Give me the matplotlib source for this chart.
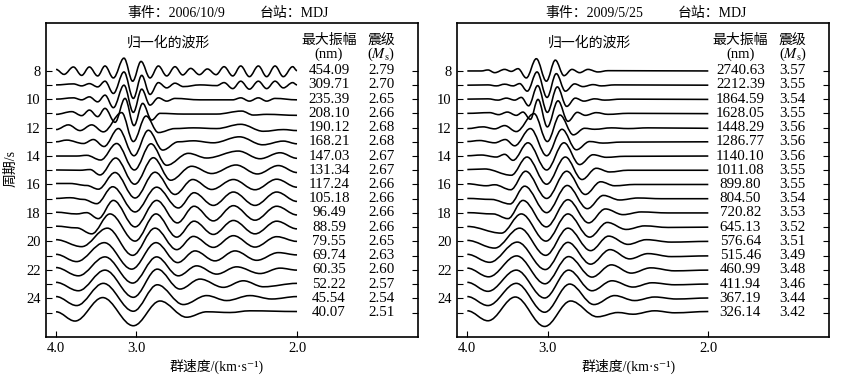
import numpy as np
import matplotlib
matplotlib.use('Agg')
import matplotlib.pyplot as plt
from matplotlib.path import Path
from matplotlib.patches import PathPatch
from matplotlib.transforms import blended_transform_factory

plt.rcParams['font.family'] = ['Liberation Serif', 'Noto Sans CJK SC', 'DejaVu Serif']
plt.rcParams['mathtext.fontset'] = 'stix'
plt.rcParams['font.size'] = 10

periods = list(range(8, 26))
vel_ticks = [4.0, 3.0, 2.0]

# event 1: 2006/10/9
ev1_maxamp = [454.09, 309.71, 235.39, 208.10, 190.12, 168.21, 147.03, 131.34, 117.24,
              105.18, 96.49, 88.59, 79.55, 69.74, 60.35, 52.22, 45.54, 40.07]
ev1_ms = [2.79, 2.70, 2.65, 2.66, 2.68, 2.68, 2.67, 2.67, 2.66,
          2.66, 2.66, 2.66, 2.65, 2.63, 2.60, 2.57, 2.54, 2.51]

# event 2: 2009/5/25
ev2_maxamp = [2740.63, 2212.39, 1864.59, 1628.05, 1448.29, 1286.77, 1140.10, 1011.08, 899.80,
              804.50, 720.82, 645.13, 576.64, 515.46, 460.99, 411.94, 367.19, 326.14]
ev2_ms = [3.57, 3.55, 3.54, 3.55, 3.56, 3.56, 3.56, 3.55, 3.55,
          3.54, 3.53, 3.52, 3.51, 3.49, 3.48, 3.46, 3.44, 3.42]

# normalized waveforms: extrema
# slowness (s/km) of each extremum, and normalized amplitude (up = +)
ev1_slow = [
    [.2500, .2583, .2680, .2766, .2846, .2932, .3008, .3095, .3205, .3295, .3382, .3475, .3562, .3648, .3734,
     .3814, .3897, .3987, .4070, .4160, .4243, .4333, .4416, .4506, .4599, .4685, .4772, .4858, .4955, .5000],
    [.2500, .2680, .2766, .2846, .2932, .3008, .3095, .3205, .3302, .3389, .3475, .3562, .3648, .3734,
     .3821, .3994, .4167, .4243, .4333, .4416, .4506, .4599, .4685, .4772, .4858, .4955, .5000],
    [.2500, .2680, .2766, .2846, .2932, .3008, .3095, .3205, .3302, .3389, .3475, .3562, .3648, .3734,
     .3994, .4333, .4416, .4506, .4599, .4685, .4772, .5000],
    [.2500, .2663, .2766, .2846, .2932, .3008, .3112, .3216, .3309, .3399, .3492, .3579, .3821, .4167,
     .4426, .4547, .4685, .5000],
    [.2500, .2628, .2749, .2870, .2991, .3181, .3302, .3434, .3562, .3734, .3925, .4167, .4416, .4651, .4858, .5000],
    [.2500, .2611, .2784, .2887, .2998, .3147, .3309, .3458, .3607, .3769, .3925, .4132, .4402, .4644, .4858, .5000],
    [.2500, .2714, .2818, .2963, .3129, .3313, .3485, .3648, .3873, .4063, .4391, .4616, .4824, .5000],
    [.2500, .2749, .2853, .2956, .3119, .3316, .3510, .3690, .3907, .4115, .4367, .4589, .4806, .5000],
    [.2500, .2645, .2818, .2939, .3112, .3320, .3527, .3734, .3918, .4115, .4340, .4564, .4789, .5000],
    [.2500, .2645, .2784, .2922, .3088, .3320, .3544, .3769, .3932, .4132, .4340, .4564, .4789, .5000],
    [.2500, .2714, .2818, .2939, .3095, .3320, .3544, .3759, .3932, .4132, .4340, .4564, .4789, .5000],
    [.2500, .2714, .2870, .3060, .3320, .3537, .3752, .3932, .4132, .4340, .4564, .4789, .5000],
    [.2500, .2766, .3033, .3295, .3527, .3752, .3925, .4132, .4340, .4564, .4789, .5000],
    [.2500, .2714, .3001, .3285, .3537, .3762, .3942, .4149, .4357, .4582, .4806, .5000],
    [.2500, .2732, .3008, .3295, .3544, .3769, .3959, .4167, .4374, .4616, .4824, .5000],
    [.2500, .2732, .3008, .3302, .3551, .3786, .3994, .4236, .4443, .4651, .5000],
    [.2500, .2714, .2991, .3302, .3551, .3821, .4063, .4270, .4512, .4737, .5000],
    [.2500, .2697, .2984, .3302, .3579, .3855, .4063, .4305, .4512, .5000],
]
ev1_amp = [
    [.09, -.26, .26, -.33, .26, -.37, .33, -.51, .88, -.74, .65, -.51, .33, -.37, .28,
     -.30, .16, -.28, .12, -.28, .28, -.37, .33, -.42, .33, -.42, .33, -.42, .28, 0],
    [0, .07, -.07, .09, -.14, .26, -.60, .91, -.95, .67, -.67, .16, -.21, .12,
     -.12, 0, -.05, .16, -.26, .26, -.30, .26, -.26, .26, -.21, .16, 0],
    [0, .09, -.05, .16, -.19, .28, -.60, .98, -.93, .70, -.42, .09, -.14, .05,
     -.05, -.05, .09, -.14, .09, -.14, .05, -.05],
    [-.07, .12, -.16, .23, -.23, .35, -.63, 1.05, -.86, .70, -.47, 0, -.05, -.05,
     .16, -.12, -.07, -.14],
    [-.14, .19, -.21, .19, -.30, 1.05, -.98, .81, -.35, -.07, -.02, -.07, .23, -.26, -.14, -.21],
    [0, .12, -.12, .16, -.33, .93, -.98, .81, -.58, 0, .07, -.07, .35, -.21, .05, -.14],
    [0, 0, .05, -.28, .88, -.98, .86, -.65, .19, -.14, .35, -.19, .23, -.16],
    [.02, 0, .05, -.33, .86, -.98, .88, -.70, .28, -.23, .37, -.26, .33, -.16],
    [.07, .07, -.07, -.33, .84, -.95, .86, -.70, .35, -.35, .35, -.37, .37, -.19],
    [.02, .07, -.05, -.35, .84, -.93, .81, -.65, .42, -.47, .47, -.47, .47, -.19],
    [.05, -.07, .02, -.40, .88, -.98, .88, -.70, .47, -.56, .51, -.51, .47, -.14],
    [.07, -.05, -.47, .93, -.98, .93, -.70, .42, -.51, .47, -.47, .42, -.12],
    [.12, -.37, .93, -.98, .93, -.58, .35, -.42, .40, -.40, .33, 0],
    [.09, -.42, .91, -.95, .91, -.49, .33, -.37, .33, -.33, .21, .05],
    [.16, -.42, .91, -.93, .91, -.42, .28, -.30, .21, -.26, .12, -.02],
    [.12, -.47, .98, -.93, 1.05, -.35, .35, -.23, .23, -.19, .05],
    [.12, -.51, 1.05, -.91, .95, -.44, .19, -.16, .19, -.05, .12],
    [.05, -.60, 1.05, -.93, .81, -.33, .05, 0, .12, .07],
]

ev2_slow = [
    [.2500, .2645, .2714, .2784, .2887, .2956, .3026, .3112, .3216, .3320, .3413, .3503, .3586, .3665,
     .3752, .3855, .3959, .5000],
    [.2500, .2714, .2801, .2887, .2974, .3043, .3122, .3223, .3327, .3423, .3517, .3613, .3700, .3804,
     .3890, .4028, .5000],
    [.2500, .2714, .2818, .2905, .2991, .3060, .3136, .3230, .3330, .3434, .3531, .3620, .3710, .3821,
     .3925, .4097, .5000],
    [.2500, .2732, .2825, .2915, .3008, .3077, .3154, .3233, .3330, .3441, .3544, .3641, .3724, .3838,
     .3959, .4167, .5000],
    [.2500, .2663, .2784, .2887, .3008, .3192, .3330, .3461, .3600, .3717, .3821, .3994, .4167, .4374, .5000],
    [.2500, .2628, .2784, .2894, .2991, .3154, .3323, .3482, .3631, .3769, .3907, .4097, .5000],
    [.2500, .2645, .2801, .2887, .2974, .3129, .3323, .3503, .3665, .3804, .3942, .4132, .5000],
    [.2500, .2680, .2956, .3119, .3323, .3517, .3690, .3838, .3976, .4167, .5000],
    [.2500, .2697, .2784, .2950, .3105, .3323, .3531, .3724, .3883, .4028, .4236, .5000],
    [.2500, .2749, .2943, .3095, .3323, .3537, .3745, .3911, .4080, .4270, .4512, .5000],
    [.2500, .2766, .2922, .3077, .3320, .3544, .3759, .3932, .4115, .4305, .4582, .5000],
    [.2500, .2853, .3060, .3316, .3544, .3769, .3952, .4149, .4340, .4582, .5000],
    [.2500, .2784, .3043, .3313, .3544, .3779, .3966, .4167, .4357, .4616, .5000],
    [.2500, .2732, .3019, .3309, .3544, .3779, .3980, .4184, .4374, .4616, .5000],
    [.2500, .2721, .3012, .3306, .3551, .3793, .3994, .4201, .4402, .4651, .5000],
    [.2500, .2714, .3008, .3302, .3551, .3793, .4001, .4219, .4416, .4651, .5000],
    [.2500, .2714, .3008, .3302, .3562, .3814, .4028, .4236, .4443, .4668, .5000],
    [.2500, .2714, .2998, .3302, .3572, .3849, .4063, .4219, .4443, .4651, .5000],
]
ev2_amp = [
    [-.02, -.02, .05, -.14, .09, -.05, .14, -.51, .84, -.74, .74, -.35, .09, -.14, .09, -.09, 0, -.02],
    [-.02, 0, -.07, .05, -.07, .09, -.44, .91, -.88, .79, -.44, .07, -.12, .02, -.07, 0, -.02],
    [0, .02, -.07, .07, -.07, .12, -.47, .95, -.93, .86, -.51, .07, -.14, .02, -.07, 0, -.02],
    [0, .05, -.09, .09, -.14, .09, -.42, .98, -.95, .88, -.56, .07, -.14, .05, -.07, 0, -.02],
    [-.07, .05, -.09, .14, -.28, .98, -.98, .88, -.51, -.05, -.12, -.02, -.07, -.02, -.05],
    [.02, .09, -.07, .16, -.28, .93, -.98, .88, -.56, .02, -.09, -.02, 0],
    [.02, .07, -.07, .12, -.30, .93, -.98, .93, -.60, .09, -.09, -.02, 0],
    [.05, .09, -.35, .93, -.98, .93, -.65, .14, -.12, 0, 0],
    [.05, -.09, -.02, -.37, .93, -.98, .93, -.70, .19, -.09, 0, 0],
    [.02, -.05, -.37, .88, -.98, .93, -.70, .23, -.09, .05, 0, 0],
    [.02, -.07, -.40, .88, -.98, .93, -.70, .28, -.12, .07, 0, 0],
    [.05, -.42, .93, -.98, .93, -.70, .33, -.16, .09, -.02, 0],
    [.07, -.47, .93, -.98, .93, -.65, .37, -.21, .12, -.05, 0],
    [.09, -.47, .95, -.98, .93, -.60, .42, -.23, .14, -.07, -.02],
    [.12, -.49, .98, -.98, .93, -.51, .35, -.23, .14, -.07, -.02],
    [.12, -.51, .98, -.98, .98, -.47, .23, -.21, .09, -.05, 0],
    [.12, -.51, 1.05, -.98, 1.0, -.44, .19, -.16, .09, -.05, .02],
    [.12, -.58, 1.09, -.98, .81, -.30, 0, -.12, .12, -.02, .07],
]

events = ['2006/10/9', '2009/5/25']
station = 'MDJ'


def wave_path(s, a, p, k=0.36):
    # smooth curve through the extrema (flat tangent at each one)
    x = np.asarray(s)
    y = p - np.asarray(a)
    verts = [(x[0], y[0])]
    codes = [Path.MOVETO]
    for i in range(1, len(x)):
        dx = x[i] - x[i - 1]
        verts += [(x[i - 1] + k * dx, y[i - 1]), (x[i] - k * dx, y[i]), (x[i], y[i])]
        codes += [Path.CURVE4] * 3
    return Path(verts, codes)


fig = plt.figure(figsize=(8.51, 3.80), dpi=100)
W, H = 851, 380
panels = [
    (46, ev1_slow, ev1_amp, ev1_maxamp, ev1_ms, events[0], 0.220, 0.573, 0.330),
    (457.3, ev2_slow, ev2_amp, ev2_maxamp, ev2_ms, events[1], 0.238, 0.591, 0.355),
]

for left, slow, amp, maxamp, ms, ev, tx1, tx2, wx in panels:
    ax = fig.add_axes([left / W, 1 - 336.7 / H, 372 / W, 313.4 / H])
    for p, s, a in zip(periods, slow, amp):
        ax.add_patch(PathPatch(wave_path(s, a, p), facecolor='none', edgecolor='black', lw=1.15))
    ax.set_xlim(0.2396, 0.6255)
    ax.set_ylim(26.70, 4.67)

    ax.set_xticks([1 / v for v in vel_ticks])
    ax.set_xticklabels(['%.1f' % v for v in vel_ticks])
    ax.set_yticks(periods)
    ax.set_yticklabels([str(p) if p % 2 == 0 and p < 25 else '' for p in periods])
    ax.tick_params(axis='y', direction='in', left=True, right=True, length=4, width=0.8,
                   pad=4, labelsize=10.5)
    ax.tick_params(axis='x', direction='in', top=False, length=4, width=0.8, pad=4, labelsize=10.5)
    for sp in ax.spines.values():
        sp.set_linewidth(1.2)

    tr = blended_transform_factory(ax.transAxes, ax.transData)
    for p, m, q in zip(periods, maxamp, ms):
        ax.text(0.7608, p, '%.2f' % m, transform=tr, ha='center', va='center', fontsize=10.8)
        ax.text(0.9016, p, '%.2f' % q, transform=tr, ha='center', va='center', fontsize=10.8)
    ax.text(wx, 6.05, '归一化的波形', transform=tr, ha='center', va='center', fontsize=10)
    ax.text(0.7608, 5.90, '最大振幅', transform=tr, ha='center', va='center', fontsize=10)
    ax.text(0.7608, 6.84, '(nm)', transform=tr, ha='center', va='center', fontsize=10.5)
    ax.text(0.9016, 5.90, '震级', transform=tr, ha='center', va='center', fontsize=10)
    ax.text(0.9016, 6.86, r'($M_{\mathrm{s}}$)', transform=tr, ha='center', va='center', fontsize=10.5)

    ax.text(tx1, 1.030, '事件：' + ev, transform=ax.transAxes, ha='left', va='center', fontsize=10)
    ax.text(tx2, 1.030, '台站：' + station, transform=ax.transAxes, ha='left', va='center', fontsize=10)
    ax.text(0.46, -0.096, '群速度/(km·s⁻¹)', transform=ax.transAxes, ha='center', va='center', fontsize=10)

fig.text(11 / W, 1 - 168 / H, '周期/s', rotation=90, ha='center', va='center', fontsize=10)

fig.savefig('out.png', dpi=100)
